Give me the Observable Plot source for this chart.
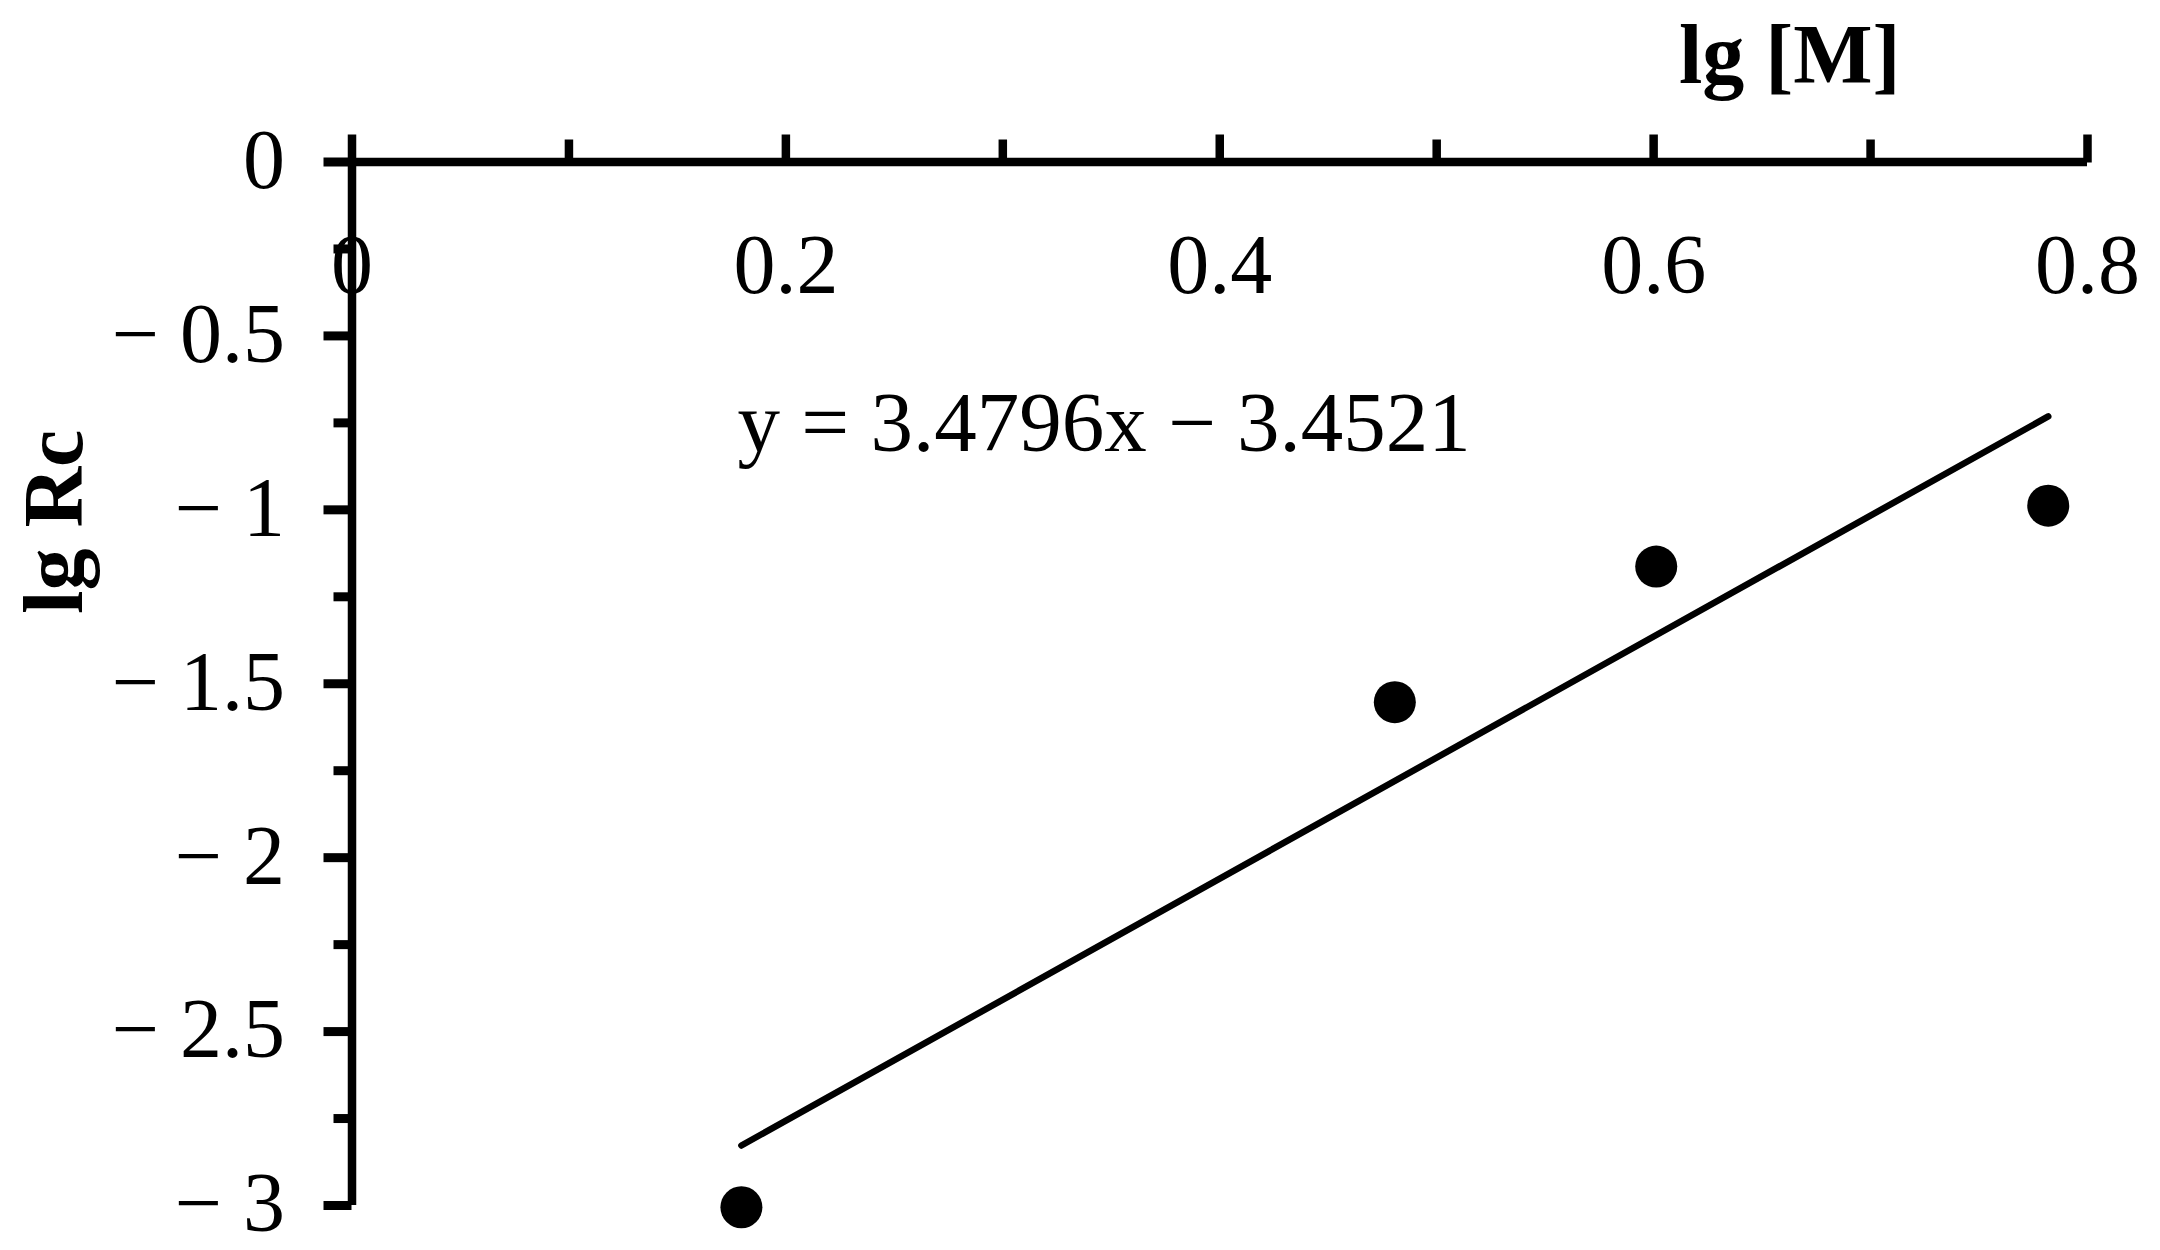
<!DOCTYPE html>
<html>
<head>
<meta charset="utf-8">
<script src="https://cdn.jsdelivr.net/npm/d3@7"></script>
<script src="https://cdn.jsdelivr.net/npm/@observablehq/plot@0.6"></script>
<style>
  html, body { margin: 0; padding: 0; background: #ffffff; }
  svg { display: block; }
</style>
</head>
<body>
<div id="chart"></div>
<script>
// ---- data ----
const lgM  = [0.1795, 0.4807, 0.6012, 0.7819];
const lgRc = [-3.005, -1.553, -1.163, -0.988];
const slope = [3.4796];
const intercept = [-3.4521];
const xMajorTicks = [0, 0.2, 0.4, 0.6, 0.8];
const xMinorTicks = [0.1, 0.3, 0.5, 0.7];
const yMajorTicks = [0, -0.5, -1, -1.5, -2, -2.5, -3];
const yMinorTicks = [-0.25, -0.75, -1.25, -1.75, -2.25, -2.75];
const xTitle = ["lg [M]"];
const yTitle = ["lg Rc"];
const equation = ["y = 3.4796x − 3.4521"];

const points = lgM.map((x, i) => ({x, y: lgRc[i]}));
const trend = d3.extent(lgM).map(x => ({x, y: slope[0] * x + intercept[0]}));

const FONT = "'Liberation Serif', 'Times New Roman', Times, serif";
const FS = 84;
const fmtY = d => d < 0 ? "\u2212 " + String(Math.abs(d)) : String(d);

const chart = Plot.plot({
  width: 2160,
  height: 1250,
  marginLeft: 351.5,
  marginRight: 73,
  marginTop: 161.5,
  marginBottom: 45,
  style: {fontFamily: FONT, fontSize: FS + "px", background: "#ffffff", color: "#000000"},
  x: {domain: [0, 0.8], label: null},
  y: {domain: [-3, 0], label: null},
  marks: [
    // axis lines
    Plot.ruleY([0], {stroke: "#000", strokeWidth: 8.5}),
    Plot.ruleX([0], {stroke: "#000", strokeWidth: 8.5}),
    // x ticks (upward from the top axis line)
    Plot.axisX({anchor: "top", ticks: xMajorTicks, tickSize: 28, strokeWidth: 8.5, fill: "none", label: null}),
    Plot.axisX({anchor: "top", ticks: xMinorTicks, tickSize: 23, strokeWidth: 8.5, fill: "none", label: null}),
    // x tick labels (below the axis line)
    Plot.text(xMajorTicks, {x: d => d, text: d => String(d), frameAnchor: "top", lineAnchor: "bottom",
      dy: 130.5, fontSize: FS, fontFamily: FONT, fill: "#000"}),
    // y ticks
    Plot.axisY({anchor: "left", ticks: yMajorTicks, tickSize: 28, strokeWidth: 9, fill: "none", label: null}),
    Plot.axisY({anchor: "left", ticks: yMinorTicks, tickSize: 18, strokeWidth: 9, fill: "none", label: null}),
    // y tick labels
    Plot.axisY({anchor: "left", ticks: yMajorTicks, tickSize: 0, tickPadding: 67, tickFormat: fmtY,
      fontSize: FS, fontFamily: FONT, fill: "#000", dy: -1, label: null}),
    // axis titles
    Plot.text(xTitle, {text: d => d, frameAnchor: "top-right", textAnchor: "end", lineAnchor: "bottom",
      dx: -187, dy: -79.5, fontSize: FS, fontWeight: "bold", fontFamily: FONT, fill: "#000"}),
    Plot.text(yTitle, {text: d => d, frameAnchor: "left", textAnchor: "middle", lineAnchor: "bottom",
      rotate: -90, dx: -270.5, dy: -162, fontSize: FS, fontWeight: "bold", fontFamily: FONT, fill: "#000"}),
    // trend line equation
    Plot.text(equation, {text: d => d, frameAnchor: "top-left", textAnchor: "start", lineAnchor: "bottom",
      dx: 385.5, dy: 288.5, fontSize: 85, fontFamily: FONT, fill: "#000"}),
    // trend line
    Plot.line(trend, {x: "x", y: "y", stroke: "#000", strokeWidth: 6.5}),
    // data points
    Plot.dot(points, {x: "x", y: "y", r: 21, fill: "#000", stroke: "none"})
  ]
});
document.getElementById("chart").appendChild(chart);
</script>
</body>
</html>
